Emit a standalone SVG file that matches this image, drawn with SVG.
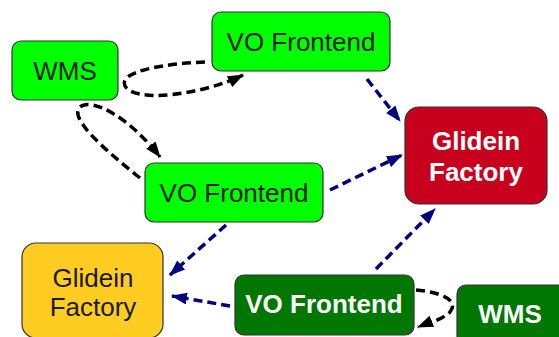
<svg xmlns="http://www.w3.org/2000/svg" width="559" height="337" viewBox="0 0 559 337">
<defs>
<style>
.box{stroke:#333;stroke-width:1.2}
.g{fill:#00ff00}
.r{fill:#c8001e}
.y{fill:#ffcc22}
.d{fill:#007700}
.t{font-family:"Liberation Sans",Arial,sans-serif;font-size:26px;text-anchor:middle;fill:#1a1a1a}
.tb{font-family:"Liberation Sans",Arial,sans-serif;font-size:26px;font-weight:bold;text-anchor:middle;fill:#fff}
.k{fill:none;stroke:#000;stroke-width:3.5;stroke-dasharray:9,5}
.b{fill:none;stroke:#000080;stroke-width:3.5;stroke-dasharray:9,5}
</style>
<marker id="ak" viewBox="0 0 16 12" refX="15" refY="6" markerWidth="16" markerHeight="12" markerUnits="userSpaceOnUse" orient="auto"><path d="M0,0 L16,6 L0,12 z" fill="#000"/></marker>
<marker id="ab" viewBox="0 0 16 12" refX="15" refY="6" markerWidth="16" markerHeight="12" markerUnits="userSpaceOnUse" orient="auto"><path d="M0,0 L16,6 L0,12 z" fill="#000080"/></marker>
</defs>
<g id="connectors">
<path class="k" d="M205,62 C160,64 118,72 125,86 C135,104 205,94 243,75" marker-end="url(#ak)"/>
<path class="k" d="M140,178 C105,150 68,118 80,107 C92,97 130,118 160,157" marker-end="url(#ak)"/>
<path class="k" d="M416,290 C440,292 460,300 450,312 C442,320 430,322 418,327" marker-end="url(#ak)"/>
<path class="b" d="M367,79 L400,121" marker-end="url(#ab)"/>
<path class="b" d="M330,190 L402,155" marker-end="url(#ab)"/>
<path class="b" d="M376,269 L435,209" marker-end="url(#ab)"/>
<path class="b" d="M226,225 L170,275" marker-end="url(#ab)"/>
<path class="b" d="M230,306 L172,296" marker-end="url(#ab)"/>
</g>
<g id="wms1"><rect class="box g" x="12" y="41" width="106" height="59" rx="9"/><text class="t" x="65" y="80">WMS</text></g>
<g id="vo1"><rect class="box g" x="212" y="12" width="178" height="59" rx="9"/><text class="t" x="301" y="51">VO Frontend</text></g>
<g id="gf1"><rect class="box r" x="405" y="107" width="142" height="97" rx="14"/><text class="tb" x="476" y="150">Glidein</text><text class="tb" x="476" y="181">Factory</text></g>
<g id="vo2"><rect class="box g" x="145" y="163" width="178" height="59" rx="9"/><text class="t" x="234" y="202">VO Frontend</text></g>
<g id="gf2"><rect class="box y" x="22" y="243" width="141" height="95" rx="14"/><text class="t" x="93" y="287">Glidein</text><text class="t" x="93" y="316">Factory</text></g>
<g id="vo3"><rect class="box d" x="235" y="275" width="179" height="60" rx="9"/><text class="tb" x="324" y="313">VO Frontend</text></g>
<g id="wms2"><rect class="box d" x="457" y="285" width="110" height="60" rx="9"/><text class="tb" x="510" y="323">WMS</text></g>
</svg>
